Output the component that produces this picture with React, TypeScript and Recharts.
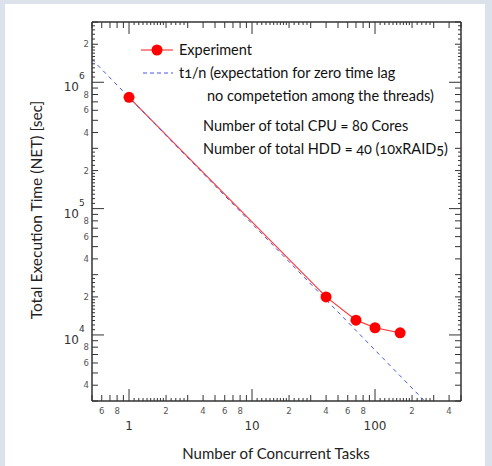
import { Line, LineChart, XAxis, YAxis } from 'recharts';

// measured points (number of tasks vs. total execution time in sec)
const tasks = [1, 40, 70, 100, 160];
const execTime = [760000, 20000, 13100, 11400, 10400];

// t1/n reference line, read at the left edge and where it leaves the frame
const idealTasks = [0.5, 253];
const idealTime = [1520000, 3000];

const xDomain: [number, number] = [0.5, 500];
const yDomain: [number, number] = [3000, 3000000];
const xDecades = [0.1, 1, 10, 100];
const yDecades = [1000, 10000, 100000, 1000000];
const mainMantissas = [1, 2, 3, 4, 5, 6, 7, 8, 9];
const fineMantissas = [1.1, 1.2, 1.3, 1.4, 1.5, 1.6, 1.7, 1.8, 1.9, 2.2, 2.4, 2.6, 2.8];
const labelMantissas = [2, 4, 6, 8];

const expData = tasks.map((n, i) => ({ n, t: execTime[i] }));
const idealData = idealTasks.map((n, i) => ({ n, t: idealTime[i] }));

const buildTicks = (decades: number[], [lo, hi]: [number, number]) =>
  decades
    .flatMap((d) => [...mainMantissas, ...fineMantissas].map((m) => d * m))
    .filter((v) => v >= lo * 0.999 && v <= hi * 1.001)
    .sort((a, b) => a - b);

const xTicks = buildTicks(xDecades, xDomain);
const yTicks = buildTicks(yDecades, yDomain);

const split = (v: number) => {
  const e = Math.floor(Math.log10(v) + 1e-9);
  const m = Math.round((v / Math.pow(10, e)) * 10) / 10;
  return { m, e };
};
const tickLen = (m: number) => (m === 1 ? 12 : Number.isInteger(m) ? 6 : 3);

const INK = '#333';
const smallFont = { fontFamily: 'DejaVu Sans', fontSize: 8.5, fill: '#555' };
const textFont = 'Lato, "Open Sans", sans-serif';

const BottomTick = (props: any) => {
  const { x, y, payload } = props;
  const { m } = split(payload.value);
  return (
    <g>
      <line x1={x} x2={x} y1={y} y2={y - tickLen(m)} stroke={INK} strokeWidth={1} />
      {labelMantissas.includes(m) && (
        <text x={x} y={y + 13} textAnchor="middle" {...smallFont}>{m}</text>
      )}
      {m === 1 && (
        <text x={x} y={y + 29} textAnchor="middle" fontFamily="DejaVu Sans" fontSize={12} fill="#333">
          {String(Math.round(payload.value))}
        </text>
      )}
    </g>
  );
};

const TopTick = (props: any) => {
  const { x, y, payload } = props;
  const { m } = split(payload.value);
  return <line x1={x} x2={x} y1={y} y2={y + tickLen(m)} stroke={INK} strokeWidth={1} />;
};

const LeftTick = (props: any) => {
  const { x, y, payload } = props;
  const { m, e } = split(payload.value);
  return (
    <g>
      <line x1={x} x2={x + tickLen(m)} y1={y} y2={y} stroke={INK} strokeWidth={1} />
      {labelMantissas.includes(m) && (
        <text x={x - 3} y={y + 3} textAnchor="end" {...smallFont}>{m}</text>
      )}
      {m === 1 && (
        <g>
          <text x={x - 13} y={y + 9} textAnchor="end" fontFamily="DejaVu Sans" fontSize={12} fill="#333">10</text>
          <text x={x - 13} y={y - 3} textAnchor="start" fontFamily="DejaVu Sans" fontSize={9} fill="#333">{e}</text>
        </g>
      )}
    </g>
  );
};

const RightTick = (props: any) => {
  const { x, y, payload } = props;
  const { m } = split(payload.value);
  return <line x1={x} x2={x - tickLen(m)} y1={y} y2={y} stroke={INK} strokeWidth={1} />;
};

const bodyText = {
  fontFamily: textFont,
  fontSize: 14.5,
  color: '#111',
  lineHeight: '23px',
  whiteSpace: 'nowrap' as const,
  fontVariantNumeric: 'oldstyle-nums',
};

const LegendBox = () => (
  <div style={{ position: 'absolute', left: 137, top: 38, ...bodyText }}>
    <div style={{ display: 'flex', alignItems: 'center', height: 23 }}>
      <svg width={38} height={14} style={{ marginRight: 4 }}>
        <line x1={4} x2={36} y1={7} y2={7} stroke="#ff3b3b" strokeWidth={1.2} />
        <circle cx={20} cy={7} r={5.5} fill="#ff0000" />
      </svg>
      <span>Experiment</span>
    </div>
    <div style={{ display: 'flex', alignItems: 'center', height: 23 }}>
      <svg width={38} height={14} style={{ marginRight: 4 }}>
        <line x1={6} x2={36} y1={7} y2={7} stroke="#4a55e6" strokeWidth={1} strokeDasharray="4 3" />
      </svg>
      <span>t1/n (expectation for zero time lag</span>
    </div>
    <div style={{ paddingLeft: 70, height: 23 }}>no competetion among the threads)</div>
  </div>
);

export default function App() {
  return (
    <div style={{ position: 'fixed', left: 0, top: 0, width: 492, height: 466, background: '#dbe2eb', overflow: 'hidden' }}>
      <div style={{ position: 'absolute', left: 5, top: 4, width: 480, height: 462, background: '#fff' }} />
      <div style={{ position: 'absolute', left: 0, top: 0 }}>
        <LineChart width={492} height={466} margin={{ top: 0, right: 0, bottom: 0, left: 0 }}>
          <XAxis
            xAxisId="bottom"
            dataKey="n"
            type="number"
            scale="log"
            domain={xDomain}
            allowDataOverflow
            ticks={xTicks}
            interval={0}
            height={65}
            tickSize={0}
            tickMargin={0}
            tickLine={false}
            axisLine={{ stroke: INK, strokeWidth: 1.5 }}
            tick={<BottomTick />}
            label={{
              content: () => (
                <text x={276} y={459} textAnchor="middle" fontFamily={textFont} fontSize={15} fill="#222">
                  Number of Concurrent Tasks
                </text>
              ),
            }}
          />
          <XAxis
            xAxisId="top"
            orientation="top"
            dataKey="n"
            type="number"
            scale="log"
            domain={xDomain}
            allowDataOverflow
            ticks={xTicks}
            interval={0}
            height={22}
            tickSize={0}
            tickMargin={0}
            tickLine={false}
            axisLine={{ stroke: INK, strokeWidth: 1.5 }}
            tick={<TopTick />}
          />
          <YAxis
            yAxisId="left"
            dataKey="t"
            type="number"
            scale="log"
            domain={yDomain}
            allowDataOverflow
            ticks={yTicks}
            interval={0}
            width={92}
            tickSize={0}
            tickMargin={0}
            tickLine={false}
            axisLine={{ stroke: INK, strokeWidth: 1.5 }}
            tick={<LeftTick />}
            label={{
              content: () => (
                <text
                  x={36}
                  y={210}
                  transform="rotate(-90 36 210)"
                  textAnchor="middle"
                  dominantBaseline="central"
                  fontFamily={textFont}
                  fontSize={15.5}
                  fill="#222"
                >
                  Total Execution Time (NET) [sec]
                </text>
              ),
            }}
          />
          <YAxis
            yAxisId="right"
            orientation="right"
            dataKey="t"
            type="number"
            scale="log"
            domain={yDomain}
            allowDataOverflow
            ticks={yTicks}
            interval={0}
            width={31}
            tickSize={0}
            tickMargin={0}
            tickLine={false}
            axisLine={{ stroke: INK, strokeWidth: 1.5 }}
            tick={<RightTick />}
          />
          <Line
            xAxisId="bottom"
            yAxisId="left"
            data={expData}
            dataKey="t"
            stroke="#ff3b3b"
            strokeWidth={1.2}
            dot={{ r: 5.5, fill: '#ff0000', stroke: '#ff0000', strokeWidth: 0 }}
            activeDot={false}
            isAnimationActive={false}
          />
          <Line
            xAxisId="bottom"
            yAxisId="left"
            data={idealData}
            dataKey="t"
            stroke="#4a55e6"
            strokeWidth={1}
            strokeDasharray="4 4"
            dot={false}
            activeDot={false}
            isAnimationActive={false}
          />
        </LineChart>
      </div>
      <LegendBox />
      <div style={{ position: 'absolute', left: 203, top: 114, ...bodyText }}>
        <div>Number of total CPU = 80 Cores</div>
        <div>Number of total HDD = 40 (10xRAID5)</div>
      </div>
    </div>
  );
}
